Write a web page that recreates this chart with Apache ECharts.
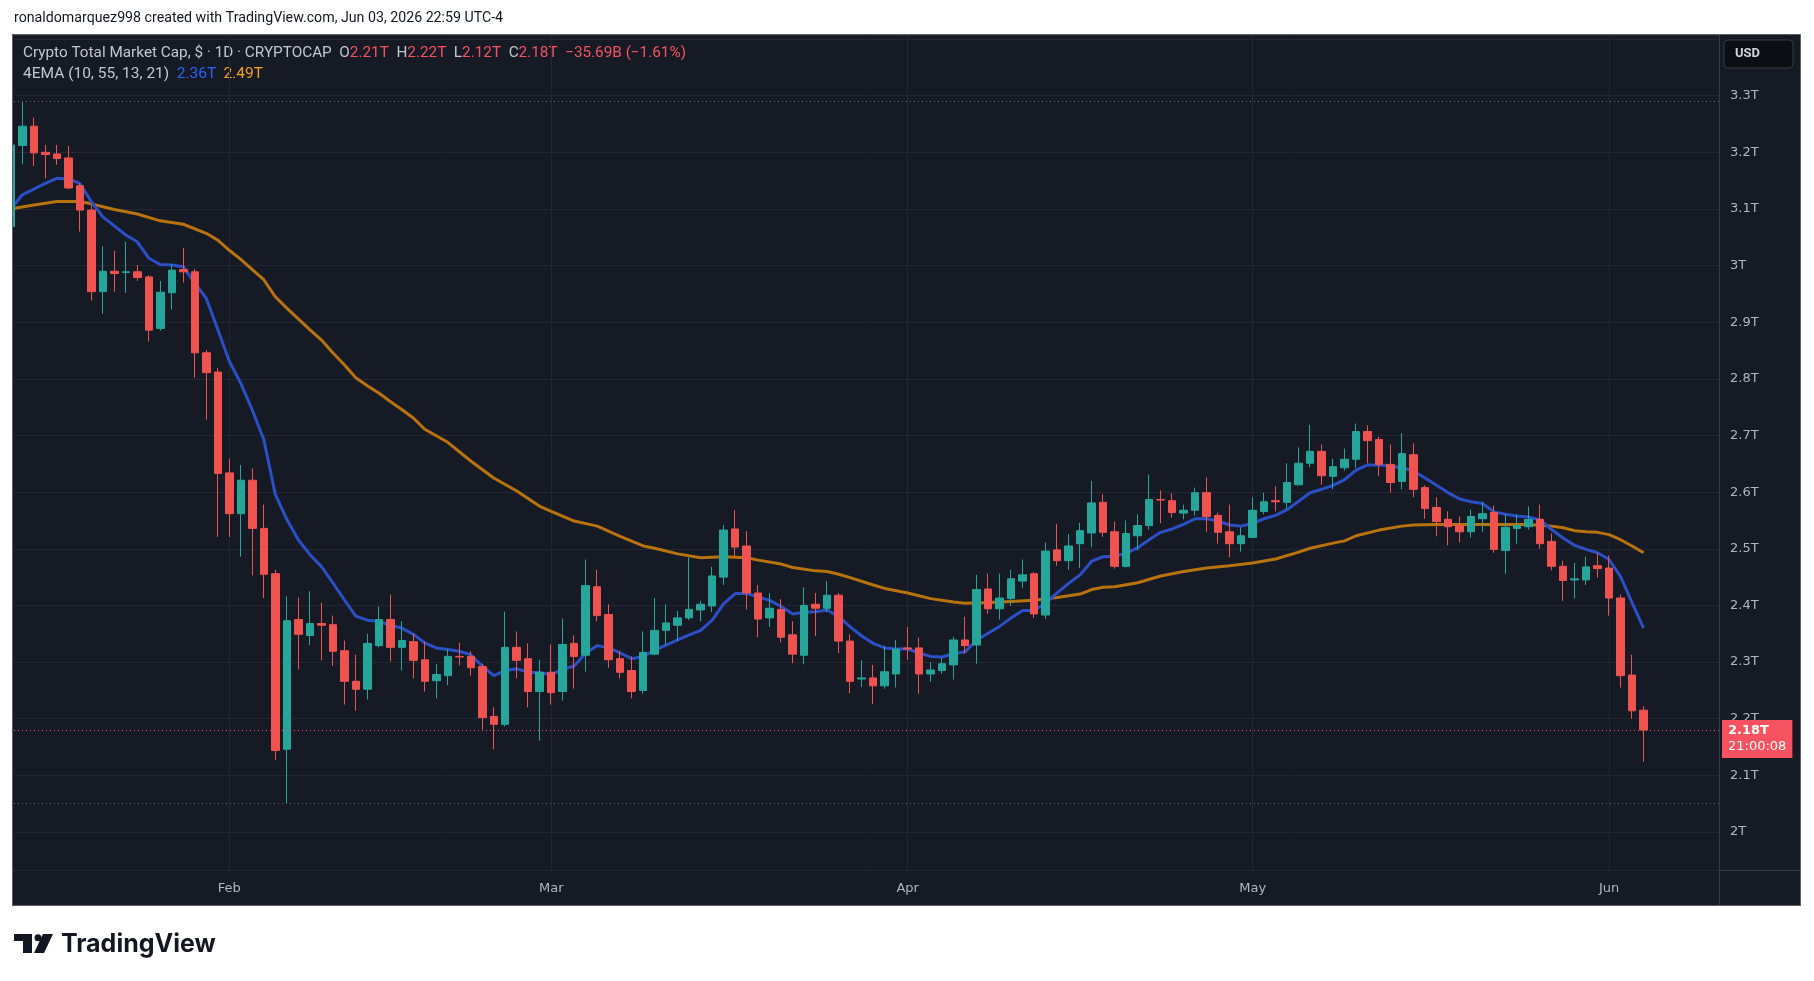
<!DOCTYPE html>
<html>
<head>
<meta charset="utf-8">
<script src="https://cdn.jsdelivr.net/npm/echarts@6/dist/echarts.min.js"></script>
<style>
html,body{margin:0;padding:0;background:#ffffff;}
#panel{position:absolute;left:12px;top:34px;width:1789px;height:872px;box-sizing:border-box;background:#161a25;border:1px solid #5d606b;}
#chart{position:absolute;left:0;top:0;width:1814px;height:981px;}
</style>
</head>
<body>
<div id="panel"></div>
<div id="chart"></div>
<script>
// ---------- categories ----------
const dates = [
'01-13','01-14','01-15','01-16','01-17','01-18','01-19','01-20','01-21','01-22','01-23','01-24','01-25','01-26','01-27','01-28','01-29','01-30','01-31',
'02-01','02-02','02-03','02-04','02-05','02-06','02-07','02-08','02-09','02-10','02-11','02-12','02-13','02-14','02-15','02-16','02-17','02-18','02-19','02-20','02-21','02-22','02-23','02-24','02-25','02-26','02-27','02-28',
'03-01','03-02','03-03','03-04','03-05','03-06','03-07','03-08','03-09','03-10','03-11','03-12','03-13','03-14','03-15','03-16','03-17','03-18','03-19','03-20','03-21','03-22','03-23','03-24','03-25','03-26','03-27','03-28','03-29','03-30','03-31',
'04-01','04-02','04-03','04-04','04-05','04-06','04-07','04-08','04-09','04-10','04-11','04-12','04-13','04-14','04-15','04-16','04-17','04-18','04-19','04-20','04-21','04-22','04-23','04-24','04-25','04-26','04-27','04-28','04-29','04-30',
'05-01','05-02','05-03','05-04','05-05','05-06','05-07','05-08','05-09','05-10','05-11','05-12','05-13','05-14','05-15','05-16','05-17','05-18','05-19','05-20','05-21','05-22','05-23','05-24','05-25','05-26','05-27','05-28','05-29','05-30','05-31',
'06-01','06-02','06-03','06-04'
];

// ---------- OHLC (trillions USD) ----------
const open = [
3.069,3.212,3.246,3.200,3.197,3.190,3.141,3.098,2.954,2.990,
2.988,2.989,2.980,2.889,2.952,2.993,2.989,2.846,2.812,2.634,
2.562,2.621,2.536,2.456,2.146,2.375,2.347,2.368,2.366,2.320,
2.266,2.252,2.329,2.375,2.326,2.336,2.304,2.267,2.276,2.310,
2.310,2.292,2.204,2.190,2.326,2.306,2.248,2.282,2.248,2.333,
2.312,2.433,2.384,2.306,2.285,2.250,2.314,2.356,2.365,2.378,
2.392,2.399,2.450,2.535,2.505,2.422,2.378,2.393,2.348,2.312,
2.402,2.395,2.418,2.337,2.270,2.272,2.258,2.279,2.325,2.325,
2.279,2.285,2.295,2.339,2.330,2.429,2.394,2.412,2.443,2.456,
2.383,2.498,2.479,2.509,2.528,2.582,2.530,2.469,2.523,2.541,
2.587,2.585,2.563,2.568,2.599,2.559,2.530,2.509,2.520,2.566,
2.585,2.582,2.613,2.651,2.672,2.628,2.643,2.658,2.707,2.693,
2.649,2.619,2.666,2.608,2.573,2.552,2.541,2.530,2.553,2.564,
2.497,2.536,2.539,2.552,2.513,2.469,2.445,2.445,2.470,2.466,
2.413,2.277,2.215
];
const high = [
3.225,3.288,3.261,3.213,3.213,3.211,3.145,3.107,3.034,3.026,
3.042,3.001,2.983,2.973,3.003,3.031,2.994,2.851,2.819,2.659,
2.648,2.642,2.578,2.463,2.416,2.414,2.425,2.405,2.382,2.338,
2.313,2.350,2.398,2.419,2.372,2.350,2.336,2.296,2.322,2.334,
2.319,2.297,2.220,2.389,2.354,2.333,2.304,2.331,2.377,2.347,
2.481,2.463,2.402,2.320,2.310,2.354,2.413,2.402,2.390,2.485,
2.408,2.468,2.542,2.568,2.531,2.436,2.422,2.411,2.372,2.432,
2.422,2.443,2.422,2.349,2.303,2.295,2.329,2.339,2.362,2.343,
2.300,2.307,2.345,2.380,2.454,2.456,2.456,2.463,2.481,2.459,
2.511,2.544,2.526,2.546,2.620,2.596,2.548,2.550,2.561,2.631,
2.603,2.598,2.578,2.608,2.626,2.564,2.578,2.538,2.591,2.599,
2.610,2.651,2.679,2.719,2.684,2.659,2.677,2.721,2.718,2.698,
2.684,2.704,2.686,2.612,2.591,2.566,2.557,2.569,2.583,2.576,
2.561,2.561,2.575,2.578,2.527,2.479,2.475,2.486,2.493,2.488,
2.419,2.313,2.222
];
const low = [
3.055,3.179,3.176,3.154,3.178,3.135,3.060,2.938,2.915,2.954,
2.952,2.973,2.866,2.885,2.922,2.970,2.802,2.728,2.521,2.521,
2.486,2.453,2.413,2.127,2.051,2.287,2.330,2.303,2.293,2.225,
2.214,2.234,2.326,2.301,2.285,2.271,2.248,2.236,2.259,2.294,
2.276,2.181,2.146,2.186,2.271,2.220,2.161,2.225,2.232,2.253,
2.283,2.372,2.290,2.271,2.236,2.244,2.312,2.330,2.337,2.374,
2.372,2.388,2.436,2.485,2.393,2.344,2.362,2.335,2.298,2.296,
2.346,2.388,2.316,2.245,2.256,2.226,2.253,2.255,2.304,2.244,
2.265,2.279,2.269,2.315,2.297,2.385,2.375,2.399,2.431,2.378,
2.376,2.470,2.463,2.466,2.503,2.521,2.465,2.467,2.497,2.534,
2.545,2.555,2.552,2.559,2.530,2.509,2.485,2.495,2.519,2.561,
2.566,2.571,2.612,2.644,2.613,2.605,2.638,2.643,2.651,2.628,
2.599,2.605,2.591,2.553,2.522,2.506,2.511,2.520,2.530,2.493,
2.456,2.509,2.534,2.500,2.462,2.408,2.412,2.436,2.449,2.382,
2.255,2.200,2.124
];
const close = [
3.213,3.246,3.199,3.196,3.189,3.137,3.098,2.954,2.990,2.986,
2.989,2.979,2.886,2.953,2.992,2.989,2.846,2.811,2.633,2.562,
2.621,2.536,2.455,2.144,2.373,2.349,2.368,2.365,2.319,2.266,
2.252,2.333,2.375,2.326,2.338,2.303,2.266,2.278,2.310,2.309,
2.290,2.202,2.190,2.326,2.303,2.248,2.282,2.246,2.331,2.310,
2.435,2.382,2.304,2.282,2.248,2.317,2.356,2.369,2.378,2.393,
2.402,2.452,2.533,2.503,2.422,2.376,2.395,2.344,2.314,2.400,
2.395,2.418,2.337,2.266,2.272,2.258,2.283,2.323,2.323,2.279,
2.286,2.297,2.339,2.329,2.428,2.394,2.413,2.447,2.454,2.385,
2.496,2.479,2.505,2.532,2.581,2.529,2.469,2.527,2.541,2.587,
2.586,2.564,2.568,2.599,2.557,2.529,2.509,2.523,2.568,2.583,
2.583,2.617,2.651,2.672,2.629,2.645,2.658,2.707,2.691,2.649,
2.617,2.668,2.605,2.571,2.548,2.539,2.530,2.557,2.562,2.499,
2.538,2.541,2.552,2.509,2.469,2.444,2.447,2.468,2.465,2.413,
2.276,2.214,2.180
];

// ---------- EMA 10 (blue), one value per date ----------
const ema10 = [
3.100,3.125,3.135,3.145,3.154,3.153,3.145,3.113,3.086,3.070,
3.054,3.042,3.013,3.002,3.001,2.998,2.969,2.942,2.887,2.831,
2.792,2.745,2.693,2.596,2.552,2.516,2.490,2.469,2.440,2.410,
2.381,2.374,2.372,2.365,2.360,2.349,2.334,2.325,2.322,2.319,
2.313,2.293,2.276,2.285,2.288,2.282,2.281,2.278,2.287,2.293,
2.316,2.329,2.325,2.316,2.306,2.310,2.321,2.330,2.339,2.348,
2.356,2.374,2.403,2.421,2.421,2.415,2.409,2.398,2.385,2.388,
2.389,2.392,2.380,2.362,2.346,2.333,2.325,2.323,2.323,2.316,
2.310,2.309,2.315,2.318,2.339,2.351,2.363,2.378,2.391,2.391,
2.404,2.422,2.439,2.454,2.478,2.486,2.487,2.492,2.502,2.516,
2.529,2.535,2.543,2.553,2.553,2.549,2.542,2.540,2.545,2.553,
2.559,2.569,2.584,2.599,2.605,2.612,2.622,2.639,2.648,2.648,
2.646,2.643,2.637,2.625,2.612,2.599,2.588,2.583,2.580,2.565,
2.561,2.558,2.556,2.551,2.534,2.519,2.506,2.499,2.493,2.481,
2.451,2.405,2.360
];

// ---------- EMA 55 (orange), read at these dates ----------
const ema55Dates = [
'01-13','01-15','01-17','01-19','01-20','01-22','01-24','01-26','01-28','01-30',
'01-31','02-01','02-02','02-03','02-04','02-05','02-06','02-07','02-08','02-09',
'02-10','02-11','02-12','02-13','02-14','02-15','02-16','02-17','02-18','02-20',
'02-22','02-24','02-26','02-28','03-01','03-03','03-05','03-07','03-09','03-10',
'03-12','03-14','03-16','03-18','03-19','03-21','03-22','03-24','03-25','03-26',
'03-27','03-29','03-30','04-01','04-03','04-05','04-06','04-08','04-10','04-12',
'04-14','04-16','04-17','04-18','04-19','04-21','04-23','04-25','04-27','04-29',
'05-01','05-03','05-05','05-06','05-08','05-09','05-10','05-12','05-14','05-15',
'05-17','05-21','05-25','05-27','05-28','05-29','05-30','05-31','06-01','06-02',
'06-03','06-04'
];
const ema55 = [
3.100,3.107,3.113,3.113,3.109,3.099,3.091,3.079,3.073,3.057,
3.045,3.027,3.011,2.993,2.975,2.945,2.925,2.906,2.887,2.869,
2.846,2.825,2.802,2.788,2.775,2.760,2.746,2.731,2.711,2.688,
2.655,2.625,2.602,2.575,2.566,2.549,2.540,2.522,2.505,2.501,
2.491,2.484,2.486,2.484,2.480,2.473,2.467,2.461,2.460,2.455,
2.449,2.436,2.430,2.422,2.412,2.406,2.404,2.405,2.407,2.409,
2.414,2.420,2.428,2.432,2.433,2.440,2.452,2.460,2.466,2.470,
2.475,2.482,2.494,2.501,2.510,2.514,2.523,2.533,2.540,2.542,
2.543,2.543,2.543,2.540,2.537,2.532,2.530,2.529,2.525,2.516,
2.505,2.493
];

// ---------- axis labels / markers ----------
const monthStarts = ['02-01','03-01','04-01','05-01','06-01'];
const monthLabels = ['Feb','Mar','Apr','May','Jun'];
const highMark = 3.288;   // dotted line at visible high
const lowMark = 2.051;    // dotted line at visible low
const lastClose = 2.180;  // red dotted last-price line
const lastLabel = '2.18T';
const countdown = '21:00:08';

// ---------- helpers ----------
const X0 = Date.UTC(2026, 0, 13);
function dayIdx(s) { return Math.round((Date.UTC(2026, +s.slice(0,2) - 1, +s.slice(3,5)) - X0) / 86400000); }
const monthIdx = monthStarts.map(dayIdx);

const candleData = dates.map((s, i) => [dayIdx(s), open[i], close[i], low[i], high[i]]);
const ema10Data = dates.map((s, i) => [dayIdx(s), ema10[i]]);
const ema55Data = ema55Dates.map((s, i) => [dayIdx(s), ema55[i]]);

const UP = '#26a69a', DOWN = '#ef5350';

const chart = echarts.init(document.getElementById('chart'), null, { renderer: 'canvas', width: 1814, height: 981 });
chart.setOption({
  animation: false,
  backgroundColor: 'transparent',
  grid: { left: 14, top: 35, right: 95, bottom: 111, containLabel: false },
  xAxis: {
    type: 'value',
    min: 0.276, max: 148.56,
    axisLine: { show: false },
    axisTick: { show: false },
    splitLine: { show: false },
    axisLabel: {
      customValues: monthIdx,
      formatter: v => { const k = monthIdx.indexOf(Math.round(v)); return k >= 0 ? monthLabels[k] : ''; },
      color: '#b2b5be', fontSize: 13, fontFamily: 'DejaVu Sans', margin: 12
    }
  },
  yAxis: {
    type: 'value',
    position: 'right',
    min: 1.93287, max: 3.4071,
    splitNumber: 14, minInterval: 0.1, maxInterval: 0.1,
    axisLine: { show: false },
    axisTick: { show: false },
    splitLine: { lineStyle: { color: '#242733', width: 1 } },
    axisLabel: {
      color: '#b2b5be', fontSize: 13, fontFamily: 'DejaVu Sans', margin: 11,
      showMinLabel: false, showMaxLabel: false,
      formatter: v => (v > 3.35 ? '' : (Math.round(v * 10) / 10) + 'T')
    }
  },
  series: [
    {
      type: 'line', name: 'EMA55', data: ema55Data, symbol: 'none', showSymbol: false, silent: true,
      lineStyle: { color: '#b8730f', width: 3 }, z: 2,
      markLine: {
        silent: true, symbol: ['none', 'none'], z: 1, animation: false,
        label: { show: false },
        lineStyle: { color: '#242733', width: 1, type: 'solid' },
        data: monthIdx.map(d => ({ xAxis: d }))
      }
    },
    {
      type: 'line', name: 'EMA10', data: ema10Data, symbol: 'none', showSymbol: false, silent: true,
      lineStyle: { color: '#2b4fc7', width: 3 }, z: 2
    },
    {
      type: 'candlestick', name: 'TOTAL',
      data: candleData,
      dimensions: ['d', 'open', 'close', 'lowest', 'highest'],
      encode: { x: 'd', y: ['open', 'close', 'lowest', 'highest'] },
      barWidth: 8, z: 3, clip: true,
      itemStyle: { color: UP, color0: DOWN, borderColor: UP, borderColor0: DOWN, borderWidth: 1 },
      markLine: {
        silent: true, symbol: ['none', 'none'], animation: false, z: 5,
        data: [
          { yAxis: highMark, lineStyle: { color: '#6a6d78', type: [1, 3], width: 1 }, label: { show: false } },
          { yAxis: lowMark, lineStyle: { color: '#6a6d78', type: [1, 3], width: 1 }, label: { show: false } },
          { yAxis: lastClose, lineStyle: { color: '#f7525f', type: [1, 3], width: 1 },
            label: {
              show: true, position: 'end', distance: 3, offset: [0, 9],
              formatter: '{p|' + lastLabel + '}\n{t|' + countdown + '}',
              backgroundColor: '#f7525f', padding: [3, 6, 3, 6],
              rich: {
                p: { color: '#ffffff', fontSize: 13, fontFamily: 'DejaVu Sans', fontWeight: 'bold', lineHeight: 16 },
                t: { color: '#ffffff', fontSize: 13, fontFamily: 'DejaVu Sans', lineHeight: 16 }
              }
            }
          }
        ]
      }
    }
  ],
  graphic: [
    { type: 'text', x: 14, y: 18, silent: true,
      style: { text: 'ronaldomarquez998 created with TradingView.com, Jun 03, 2026 22:59 UTC-4', font: '14.2px Roboto', fill: '#131722', verticalAlign: 'middle' } },
    { type: 'text', x: 23, y: 53, silent: true,
      style: {
        text: '{g|Crypto Total Market Cap, $ · 1D · CRYPTOCAP}  {g|O}{r|2.21T}  {g|H}{r|2.22T}  {g|L}{r|2.12T}  {g|C}{r|2.18T}  {r|−35.69B (−1.61%)}',
        verticalAlign: 'middle', font: '15.3px Roboto',
        rich: { g: { fill: '#c3c6ce', font: '15.3px Roboto' }, r: { fill: '#f7525f', font: '15.3px Roboto' } }
      } },
    { type: 'text', x: 23, y: 74, silent: true,
      style: {
        text: '{g|4EMA (10, 55, 13, 21)}  {b|2.36T}  {o|2.49T}',
        verticalAlign: 'middle', font: '15px Roboto',
        rich: { g: { fill: '#c3c6ce', font: '15.5px Roboto' }, b: { fill: '#2962ff', font: '15.5px Roboto' }, o: { fill: '#f7a21b', font: '15.5px Roboto' } }
      } },
    { type: 'rect', silent: true, shape: { x: 1724, y: 40, width: 69, height: 28, r: 4 }, style: { fill: '#0c0e14', stroke: '#363a45', lineWidth: 1 } },
    { type: 'text', x: 1735, y: 54, silent: true, style: { text: 'USD', font: 'bold 13px Roboto', fill: '#d1d4dc', verticalAlign: 'middle' } },
    { type: 'line', silent: true, shape: { x1: 1719.5, y1: 35, x2: 1719.5, y2: 905 }, style: { stroke: '#363a45', lineWidth: 1 } },
    { type: 'line', silent: true, shape: { x1: 13, y1: 870.5, x2: 1800, y2: 870.5 }, style: { stroke: '#363a45', lineWidth: 1 } },
    // mask the part of the first (partial) candle that lies outside the panel
    { type: 'rect', silent: true, z: 100, shape: { x: 0, y: 35, width: 12, height: 871 }, style: { fill: '#ffffff' } },
    { type: 'line', silent: true, z: 100, shape: { x1: 12.5, y1: 34, x2: 12.5, y2: 906 }, style: { stroke: '#5d606b', lineWidth: 1 } },
    // TradingView logo
    { type: 'rect', silent: true, shape: { x: 14, y: 934, width: 18, height: 7 }, style: { fill: '#131722' } },
    { type: 'rect', silent: true, shape: { x: 23, y: 934, width: 9, height: 19 }, style: { fill: '#131722' } },
    { type: 'circle', silent: true, shape: { cx: 38, cy: 937.8, r: 3.5 }, style: { fill: '#131722' } },
    { type: 'polygon', silent: true, shape: { points: [[43, 934], [53, 934], [44, 953], [34, 953]] }, style: { fill: '#131722' } },
    { type: 'text', x: 61, y: 944, silent: true, style: { text: 'TradingView', font: 'bold 25px Inter', fill: '#131722', verticalAlign: 'middle' } }
  ]
});
</script>
</body>
</html>
